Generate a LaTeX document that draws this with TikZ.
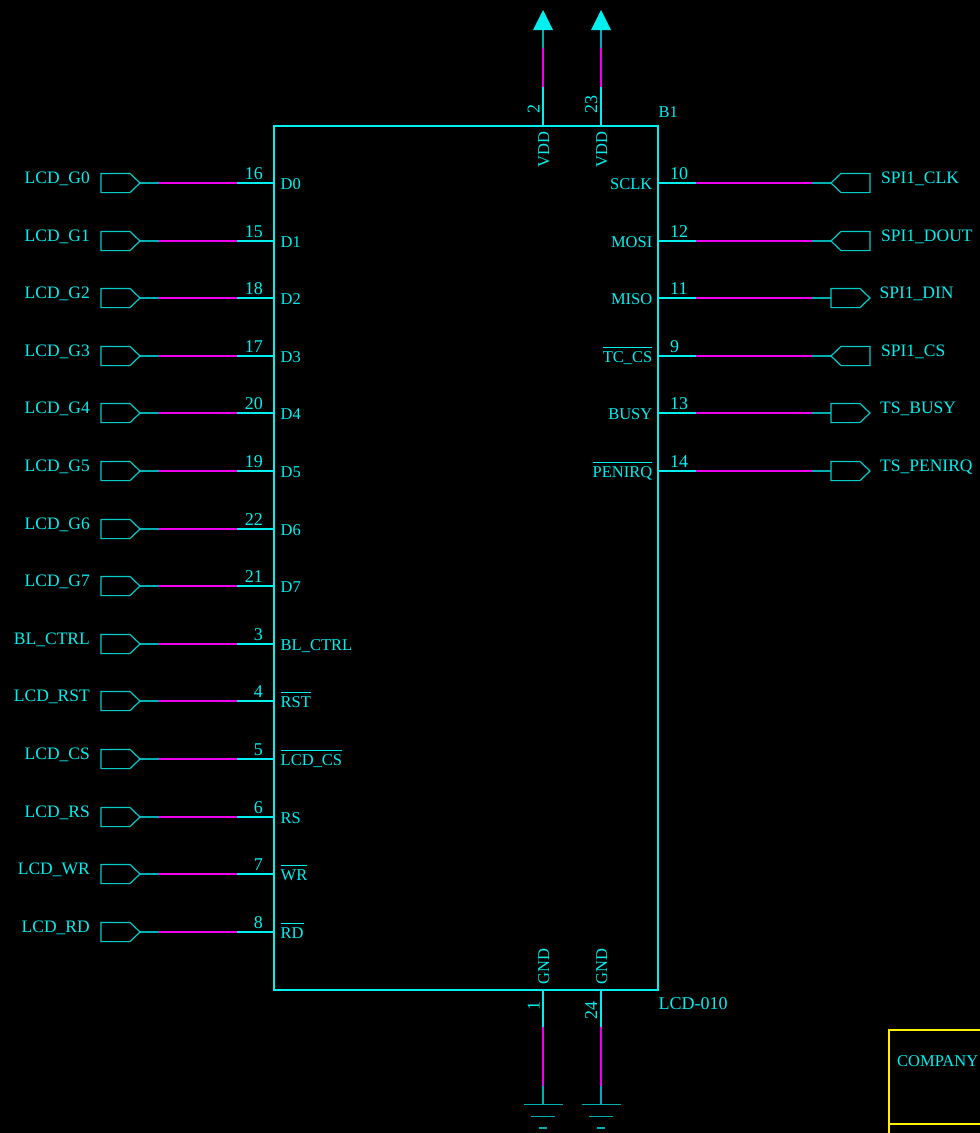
\documentclass[tikz,border=0pt]{standalone}
\usepackage{fontspec}
\setmainfont{Liberation Serif}
\usetikzlibrary{positioning}
\usetikzlibrary{calc}
\definecolor{netcyan}{HTML}{00F0F0}
\definecolor{wiremagenta}{HTML}{F000F0}
\definecolor{stubcyan}{HTML}{00B0B0}
\newcommand{\ovl}[1]{$\overline{\mbox{\rule{0pt}{0.84em}#1}}$}
\begin{document}
\begin{tikzpicture}[x = 1pt, y = -1pt, font = \fontsize{16.5}{18}\selectfont, text = netcyan]
\tikzset{
  chipbox/.style = {draw = netcyan, line width = 2pt},
  pinline/.style = {draw = netcyan, line width = 2pt},
  wire/.style = {draw = wiremagenta, line width = 2pt},
  stub/.style = {draw = stubcyan, line width = 1.5pt},
  portbox/.style = {draw = netcyan!85!black, line width = 1.2pt},
  groundbar/.style = {draw = stubcyan, line width = 1.2pt},
  pt/.style = {coordinate},
  lab/.style = {inner sep = 0pt},
  numlab/.style = {inner sep = 0pt, font = \fontsize{18}{18}\selectfont},
  netlab/.style = {inner sep = 0pt, font = \fontsize{17.5}{18}\selectfont},
  titlebox/.style = {draw = yellow, line width = 2pt},
}
\fill [black] (0, 0) rectangle (980, 1133);
\useasboundingbox (0, 0) rectangle (980, 1133);
% the part
\node [chipbox, minimum width = 384pt, minimum height = 864pt, inner sep = 0pt, outer sep = 0pt] (lcd) at (466, 558) {};
\node [lab, anchor = base west] (refName) at (658.5, 117.5) {B1};
\node [lab, anchor = base west, font = \fontsize{18}{18}\selectfont] (partName) at (658.5, 1009) {LCD-010};
% left side pins
\foreach \pinNum/\pinName/\netName [count = \i from 0] in {
  16/D0/LCD\_G0, 15/D1/LCD\_G1, 18/D2/LCD\_G2, 17/D3/LCD\_G3,
  20/D4/LCD\_G4, 19/D5/LCD\_G5, 22/D6/LCD\_G6, 21/D7/LCD\_G7,
  3/BL\_CTRL/BL\_CTRL, 4/\ovl{RST}/LCD\_RST, 5/\ovl{LCD\_CS}/LCD\_CS,
  6/RS/LCD\_RS, 7/\ovl{WR}/LCD\_WR, 8/\ovl{RD}/LCD\_RD} {
  \pgfmathsetmacro{\pinY}{round(183 + 57.6 * \i)}
  \node [pt] (leftPin\i) at (274, \pinY) {};
  \node [pt, left of = leftPin\i, node distance = 37pt] (leftA\i) {};
  \node [pt, left of = leftA\i, node distance = 78pt] (leftB\i) {};
  \node [pt, left of = leftB\i, node distance = 19pt] (leftTip\i) {};
  \draw [pinline] (leftPin\i) -- (leftA\i);
  \draw [wire] (leftA\i) -- (leftB\i);
  \draw [stub] (leftB\i) -- (leftTip\i);
  \draw [portbox] (leftTip\i) -- ++(-10, -9.6) -- ++(-29, 0) -- ++(0, 19.2) -- ++(29, 0) -- cycle;
  \node [numlab, anchor = base east] (leftNum\i) at (263, \pinY - 4) {\pinNum};
  \node [lab, anchor = base west] (leftName\i) at (280.5, \pinY + 6) {\pinName};
  \node [netlab, anchor = base east] (leftNet\i) at (90, \pinY) {\netName};
}
% right side pins, output ports point right
\foreach \pinNum/\pinName/\netName/\netX/\portDir [count = \i from 0] in {
  10/SCLK/SPI1\_CLK/881/-1, 12/MOSI/SPI1\_DOUT/881/-1, 11/MISO/SPI1\_DIN/879.5/1,
  9/\ovl{TC\_CS}/SPI1\_CS/881/-1, 13/BUSY/TS\_BUSY/880/1, 14/\ovl{PENIRQ}/TS\_PENIRQ/880/1} {
  \pgfmathsetmacro{\pinY}{round(183 + 57.6 * \i)}
  \node [pt] (rightPin\i) at (658, \pinY) {};
  \node [pt, right of = rightPin\i, node distance = 38pt] (rightA\i) {};
  \node [pt, right of = rightA\i, node distance = 116pt] (rightB\i) {};
  \node [pt, right of = rightB\i, node distance = 19pt] (rightTip\i) {};
  \draw [pinline] (rightPin\i) -- (rightA\i);
  \draw [wire] (rightA\i) -- (rightB\i);
  \draw [stub] (rightB\i) -- (rightTip\i);
  \ifnum\portDir<0
    \draw [portbox] (rightTip\i) -- ++(10, -9.6) -- ++(29, 0) -- ++(0, 19.2) -- ++(-29, 0) -- cycle;
  \else
    \draw [portbox] (rightTip\i) -- ++(0, -9.6) -- ++(29, 0) -- ++(10, 9.6) -- ++(-10, 9.6) -- ++(-29, 0) -- cycle;
  \fi
  \node [numlab, anchor = base west] (rightNum\i) at (670, \pinY - 4) {\pinNum};
  \node [lab, anchor = base east] (rightName\i) at (652.5, \pinY + 6) {\pinName};
  \node [netlab, anchor = base west] (rightNet\i) at (\netX, \pinY) {\netName};
}
% power pins
\foreach \pinNum/\pinX/\numX in {2/543/539.5, 23/601/597} {
  \node [pt] (vddPin\pinNum) at (\pinX, 126) {};
  \node [pt] (vddA\pinNum) at (\pinX, 87) {};
  \node [pt] (vddB\pinNum) at (\pinX, 48) {};
  \node [pt] (vddTip\pinNum) at (\pinX, 30) {};
  \draw [pinline] (vddPin\pinNum) -- (vddA\pinNum);
  \draw [wire] (vddA\pinNum) -- (vddB\pinNum);
  \draw [stub] (vddB\pinNum) -- (vddTip\pinNum);
  \fill [netcyan] (vddTip\pinNum) ++(-10, 0) -- ++(10, -20) -- ++(10, 20) -- cycle;
  \node [numlab, rotate = 90, anchor = base west] (vddNum\pinNum) at (\numX, 114) {\pinNum};
  \node [lab, rotate = 90, anchor = base east] (vddName\pinNum) at (\pinX + 6, 131.5) {VDD};
}
% ground pins
\foreach \pinNum/\pinX/\numX in {1/543/539.5, 24/601/597} {
  \node [pt] (gndPin\pinNum) at (\pinX, 990) {};
  \node [pt] (gndA\pinNum) at (\pinX, 1027) {};
  \node [pt] (gndB\pinNum) at (\pinX, 1086) {};
  \node [pt] (gndTip\pinNum) at (\pinX, 1104.5) {};
  \draw [pinline] (gndPin\pinNum) -- (gndA\pinNum);
  \draw [wire] (gndA\pinNum) -- (gndB\pinNum);
  \draw [stub] (gndB\pinNum) -- (gndTip\pinNum);
  \draw [groundbar] ($(gndTip\pinNum) + (-19.5, 0)$) -- ($(gndTip\pinNum) + (19.5, 0)$);
  \draw [groundbar] ($(gndTip\pinNum) + (-12, 12)$) -- ($(gndTip\pinNum) + (12, 12)$);
  \draw [groundbar] ($(gndTip\pinNum) + (-4, 23.5)$) -- ($(gndTip\pinNum) + (4, 23.5)$);
  \node [numlab, rotate = 90, anchor = base east] (gndNum\pinNum) at (\numX, 1001) {\pinNum};
  \node [lab, rotate = 90, anchor = base west] (gndName\pinNum) at (\pinX + 6, 984.5) {GND};
}
% title block corner
\draw [titlebox] (985, 1030) -- (889, 1030) -- (889, 1140);
\draw [titlebox] (889, 1124) -- (985, 1124);
\node [lab, anchor = base west] (company) at (897, 1066) {COMPANY};
\end{tikzpicture}
\end{document}
